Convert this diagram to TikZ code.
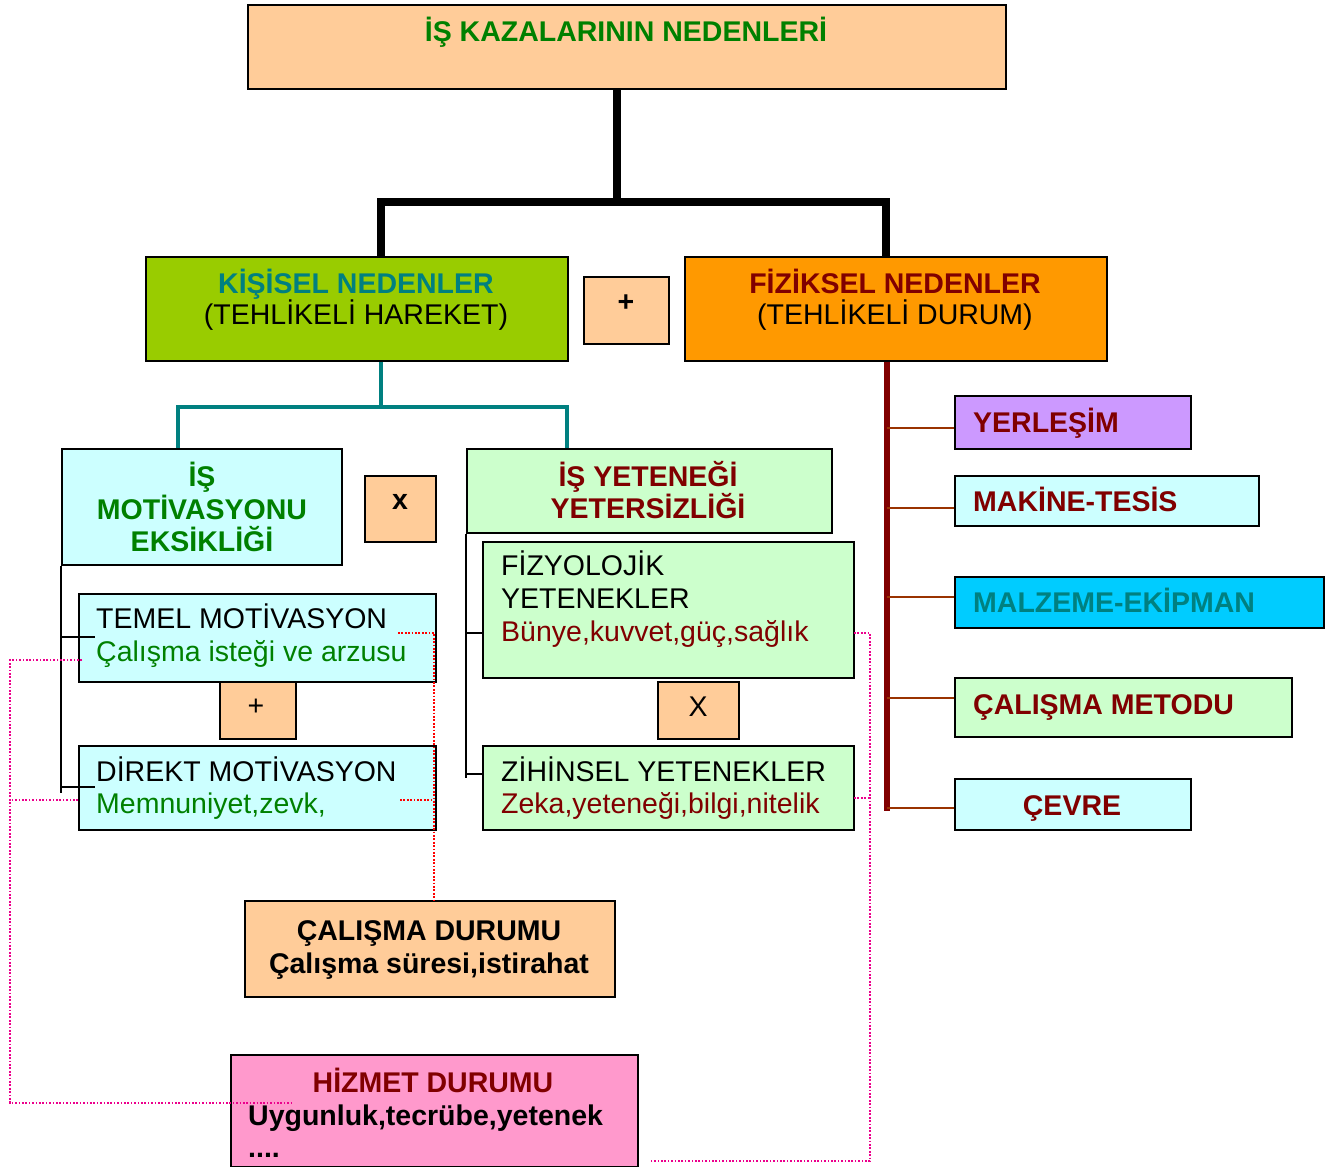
\documentclass[tikz,border=0pt]{standalone}
\usepackage{fontspec}
\setmainfont{Liberation Sans}
\usetikzlibrary{calc}
\definecolor{peach}{HTML}{FFCC99}
\definecolor{lime}{HTML}{99CC00}
\definecolor{orng}{HTML}{FF9900}
\definecolor{lcyan}{HTML}{CCFFFF}
\definecolor{lgreen}{HTML}{CCFFCC}
\definecolor{lav}{HTML}{CC99FF}
\definecolor{sky}{HTML}{00CCFF}
\definecolor{pinkc}{HTML}{FF99CC}
\definecolor{dgreen}{HTML}{008000}
\definecolor{tealc}{HTML}{008080}
\definecolor{dred}{HTML}{800000}
\definecolor{brn}{HTML}{993300}
\newcommand\mkbox[6]{\node[box, fill=#6, minimum width={(#4-#2)*1pt}, minimum height={(#5-#3)*1pt}] (#1) at (#2,#3) {};}
\begin{document}
\begin{tikzpicture}[x=1pt,y=-1pt,
  box/.style={draw=black, line width=1.8pt, inner sep=0pt, anchor=north west},
  rg/.style={inner sep=0pt, anchor=base, font=\fontsize{28.5}{33}\selectfont},
  bd/.style={inner sep=0pt, anchor=base, font=\fontsize{28.5}{33}\selectfont\bfseries},
  sym/.style={inner sep=0pt, anchor=center},
  blk/.style={draw=black, line width=8.5pt, line join=miter},
  tl/.style={draw=tealc, line width=4.5pt, line join=miter},
  brk/.style={draw=black, line width=1.6pt},
  dr/.style={draw=dred, line width=6pt},
  br/.style={draw=brn, line width=2pt},
  rdot/.style={draw=red, line width=1.7pt, dash pattern=on 1.7pt off 1.7pt},
  mdot/.style={draw=magenta, line width=1.7pt, dash pattern=on 1.7pt off 1.7pt}]
\useasboundingbox (0,0) rectangle (1325,1167);

% boxes
\mkbox{top}{247}{4}{1005}{88}{peach}
\mkbox{kis}{145}{256}{567}{360}{lime}
\mkbox{plusA}{583}{276}{668}{343}{peach}
\mkbox{fiz}{684}{256}{1106}{360}{orng}
\mkbox{mot}{61}{448}{341}{564}{lcyan}
\mkbox{xbox}{364}{475}{435}{541}{peach}
\mkbox{yet}{466}{448}{831}{532}{lgreen}
\mkbox{tem}{78}{593}{435}{681}{lcyan}
\mkbox{plusB}{219}{681}{295}{738}{peach}
\mkbox{dir}{78}{745}{435}{829}{lcyan}
\mkbox{fzy}{482}{541}{853}{677}{lgreen}
\mkbox{Xbox}{657}{681}{738}{738}{peach}
\mkbox{zih}{482}{745}{853}{829}{lgreen}
\mkbox{yer}{954}{395}{1190}{448}{lav}
\mkbox{mak}{954}{475}{1258}{525}{lcyan}
\mkbox{malz}{954}{576}{1323}{627}{sky}
\mkbox{cmet}{954}{677}{1291}{736}{lgreen}
\mkbox{cev}{954}{778}{1190}{829}{lcyan}
\mkbox{cal}{244}{900}{614}{996}{peach}
\mkbox{hiz}{230}{1054}{637}{1166}{pinkc}

% texts
\node[bd, text=dgreen] (t0) at (626,41) {İŞ KAZALARININ NEDENLERİ};
\node[bd, text=tealc] (k1) at (356,293) {KİŞİSEL NEDENLER};
\node[rg] (k2) at (356,324) {(TEHLİKELİ HAREKET)};
\node[bd, text=dred] (f1) at (895,293) {FİZİKSEL NEDENLER};
\node[rg] (f2) at (895,324) {(TEHLİKELİ DURUM)};
\node[sym, font=\fontsize{28.5}{33}\selectfont\bfseries] (p1) at (626,303) {+};
\node[bd, text=dgreen] (m1) at (202,486) {İŞ};
\node[bd, text=dgreen] (m2) at (202,519) {MOTİVASYONU};
\node[bd, text=dgreen] (m3) at (202,551) {EKSİKLİĞİ};
\node[sym, font=\fontsize{28.5}{33}\selectfont\bfseries] (xk) at (400,502) {x};
\node[bd, text=dred] (y1) at (648,486) {İŞ YETENEĞİ};
\node[bd, text=dred] (y2) at (648,518) {YETERSİZLİĞİ};
\node[rg, anchor=base west] (tm1) at (96,628) {TEMEL MOTİVASYON};
\node[rg, anchor=base west, text=dgreen] (tm2) at (96,661) {Çalışma isteği ve arzusu};
\node[sym, font=\fontsize{28.5}{33}\selectfont] (p2) at (256,707) {+};
\node[rg, anchor=base west] (dm1) at (96,781) {DİREKT MOTİVASYON};
\node[rg, anchor=base west, text=dgreen] (dm2) at (96,813) {Memnuniyet,zevk,};
\node[rg, anchor=base west] (fz1) at (501,575) {FİZYOLOJİK};
\node[rg, anchor=base west] (fz2) at (501,608) {YETENEKLER};
\node[rg, anchor=base west, text=dred] (fz3) at (501,641) {Bünye,kuvvet,güç,sağlık};
\node[sym, font=\fontsize{28.5}{33}\selectfont] (xx) at (698,707) {X};
\node[rg, anchor=base west] (zh1) at (501,781) {ZİHİNSEL YETENEKLER};
\node[rg, anchor=base west, text=dred] (zh2) at (501,813) {Zeka,yeteneği,bilgi,nitelik};
\node[bd, anchor=base west, text=dred] (r1) at (973,432) {YERLEŞİM};
\node[bd, anchor=base west, text=dred] (r2) at (973,511) {MAKİNE-TESİS};
\node[bd, anchor=base west, text=tealc] (r3) at (973,612) {MALZEME-EKİPMAN};
\node[bd, anchor=base west, text=dred] (r4) at (973,714) {ÇALIŞMA METODU};
\node[bd, text=dred] (r5) at (1072,815) {ÇEVRE};
\node[bd] (c1) at (429,940) {ÇALIŞMA DURUMU};
\node[bd] (c2) at (429,973) {Çalışma süresi,istirahat};
\node[bd, text=dred] (h1) at (433,1092) {HİZMET DURUMU};
\node[bd, anchor=base west] (h2) at (248,1125) {Uygunluk,tecrübe,yetenek};
\node[bd, anchor=base west] (h3) at (248,1157) {....};

% black tree
\coordinate (jt) at (617,202);
\coordinate (jk) at (381,202);
\coordinate (jf) at (886,202);
\draw[blk] (top.south -| jt) -- (jt);
\draw[blk] (kis.north -| jk) -- (jk) -- (jf) -- (fiz.north -| jf);

% teal tree
\coordinate (tk) at (381,407);
\coordinate (tm) at (178,407);
\coordinate (ty) at (567,407);
\draw[tl] (kis.south -| tk) -- (tk);
\draw[tl] (mot.north -| tm) -- (tm) -- (ty) -- (yet.north -| ty);

% left bracket
\coordinate (lb) at (61,793);
\coordinate (lt1) at (95,637);
\coordinate (lt2) at (95,787);
\draw[brk] (mot.south west) -- (lb);
\draw[brk] (lt1 -| lb) -- (lt1);
\draw[brk] (lt2 -| lb) -- (lt2);

% right bracket
\coordinate (rb) at (466,778);
\coordinate (rt1) at (0,633);
\coordinate (rt2) at (0,774);
\draw[brk] (yet.south west) -- (rb);
\draw[brk] (rt1 -| rb) -- (rt1 -| fzy.west);
\draw[brk] (rt2 -| rb) -- (rt2 -| zih.west);

% dark red spine
\coordinate (dv) at (887,811);
\draw[dr] (fiz.south -| dv) -- (dv);
\coordinate (b1) at (0,428);
\coordinate (b2) at (0,508);
\coordinate (b3) at (0,597);
\coordinate (b4) at (0,698);
\coordinate (b5) at (0,808);
\draw[br] (b1 -| dv) -- (b1 -| yer.west);
\draw[br] (b2 -| dv) -- (b2 -| mak.west);
\draw[br] (b3 -| dv) -- (b3 -| malz.west);
\draw[br] (b4 -| dv) -- (b4 -| cmet.west);
\draw[br] (b5 -| dv) -- (b5 -| cev.west);

% red dotted
\coordinate (rd1) at (398,633);
\coordinate (rd2) at (400,800);
\coordinate (rdv) at (434,633);
\draw[rdot] (rd1) -- (rdv) -- (rdv |- cal.north);
\draw[rdot] (rd2) -- (rd2 -| rdv);

% magenta dotted left
\coordinate (ml1) at (82,660);
\coordinate (ml2) at (78,800);
\coordinate (mlv) at (10,1103);
\coordinate (mle) at (293,1103);
\draw[mdot] (ml1) -- (ml1 -| mlv) -- (mlv) -- (mle);
\draw[mdot] (ml2) -- (ml2 -| mlv);

% magenta dotted right
\coordinate (mr1) at (854,633);
\coordinate (mr2) at (854,798);
\coordinate (mrv) at (870,1161);
\coordinate (mre) at (650,1161);
\draw[mdot] (mr1) -- (mr1 -| mrv) -- (mrv) -- (mre);
\draw[mdot] (mr2) -- (mr2 -| mrv);
\end{tikzpicture}
\end{document}
